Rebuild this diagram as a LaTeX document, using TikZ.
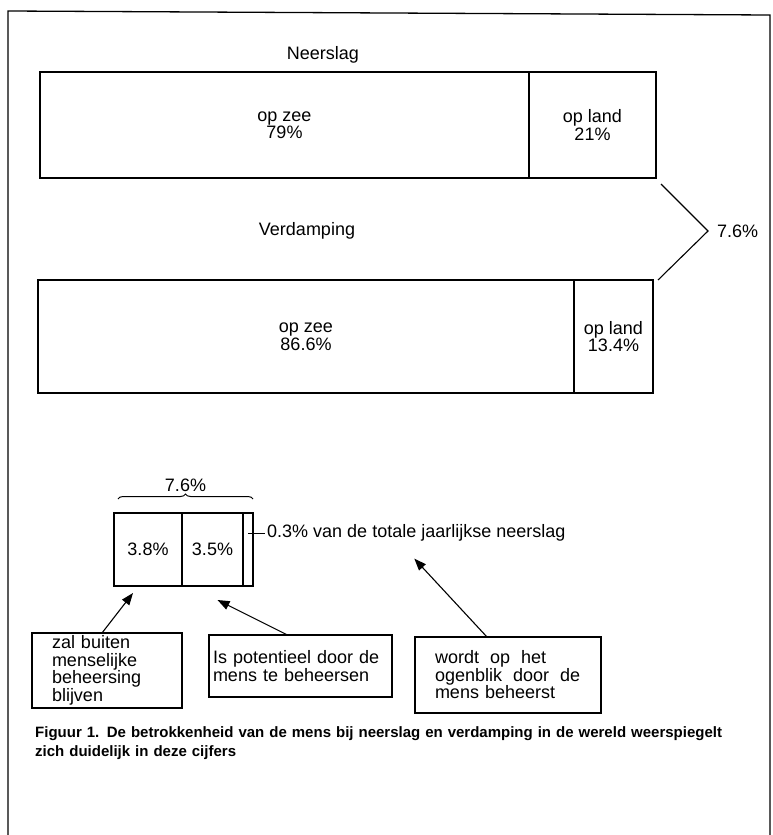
\documentclass[tikz,border=0pt]{standalone}
\usepackage{fontspec}
\setmainfont{Liberation Sans}
\usetikzlibrary{positioning,calc,arrows.meta,decorations.pathreplacing}

\tikzset{
  bar/.style={draw, line width=1.4pt, anchor=north west, align=center, inner sep=0pt, outer sep=0pt},
  cell/.style={draw, line width=1.4pt, anchor=north west, inner sep=0pt, outer sep=0pt},
  remark/.style={draw, line width=1.3pt, anchor=north west, align=left, inner ysep=0pt, outer sep=0pt},
  ptr/.style={-{Triangle[length=12pt,width=9pt]}, line width=1.1pt}
}

\begin{document}
\begin{tikzpicture}[x=1pt, y=-1pt, every node/.style={font=\fontsize{18}{17.5}\selectfont}]
    \useasboundingbox (0,0) rectangle (773,835);

    % Frame
    \draw[line width=1.3pt] (8,835) -- (8,11) -- (770,15) -- (770,835);

    % Neerslag
    \node (neerslag) at (323,55) {Neerslag};
    \node[bar, minimum width=489pt, minimum height=106pt] (nzee) at (40,72) {op zee\\79\%};
    \node[bar, minimum width=127pt, minimum height=106pt] (nland) at (nzee.north east) {op land\\21\%};

    % Verdamping
    \node (verdamping) at (307,231) {Verdamping};
    \node[bar, minimum width=536pt, minimum height=113pt] (vzee) at (38,280) {op zee\\86.6\%};
    \node[bar, minimum width=79pt, minimum height=113pt] (vland) at (vzee.north east) {op land\\13.4\%};

    % Difference between the two
    \node[anchor=west, inner sep=0pt] (verschil) at (717,231) {7.6\%};
    \draw[line width=1.1pt] ($(nland.south east)+(5,6)$) -- ([xshift=-9pt]verschil.west) -- ($(vland.north east)+(5,0)$);

    % Split of the 7.6%
    \node[cell, minimum width=68pt, minimum height=73pt] (c1) at (114,513) {3.8\%};
    \node[cell, minimum width=61pt, minimum height=73pt] (c2) at (c1.north east) {3.5\%};
    \node[cell, minimum width=10pt, minimum height=73pt] (c3) at (c2.north east) {};
    \draw[decorate, decoration={brace, amplitude=5pt}, line width=1pt]
        ($(c1.north west)+(4,-14)$) -- ($(c3.north east)+(0,-14)$)
        node[midway, above=7pt, inner sep=0pt] (totaal) {7.6\%};

    \node[anchor=west, inner sep=0pt] (note) at (267,533) {0.3\% van de totale jaarlijkse neerslag};
    \draw[line width=1pt] (c3.center |- note.west) -- ([xshift=-2pt]note.west);

    % Remarks
    \node[remark, inner xsep=20pt, text width=110pt, minimum height=75pt] (a1) at (32,633) {zal buiten\\menselijke\\beheersing\\blijven};
    \node[remark, inner xsep=4pt, text width=175pt, minimum height=62pt] (a2) at (209,635) {Is potentieel door de\\mens te beheersen};
    \node[remark, inner xsep=20pt, text width=146pt, minimum height=76pt] (a3) at (415,637) {wordt\hspace{5pt} op\hspace{5pt} het\\ogenblik\hspace{5pt} door\hspace{5pt} de\\mens beheerst};

    \draw[ptr] ([xshift=-5pt]a1.north) -- ([xshift=-15pt,yshift=-7pt]c1.south);
    \draw[ptr] ([xshift=-13pt]a2.north) -- ([xshift=5pt,yshift=-14pt]c2.south);
    \draw[ptr] ([xshift=-21pt]a3.north) -- ([xshift=-2pt,yshift=-17pt]note.south);

    % Caption
    \node[anchor=north west, inner sep=0pt, text width=735pt, align=left, font=\bfseries\fontsize{15}{19}\selectfont] (caption) at (35,726)
        {Figuur 1. De betrokkenheid van de mens bij neerslag en verdamping in de wereld weerspiegelt\\zich duidelijk in deze cijfers};
\end{tikzpicture}
\end{document}
